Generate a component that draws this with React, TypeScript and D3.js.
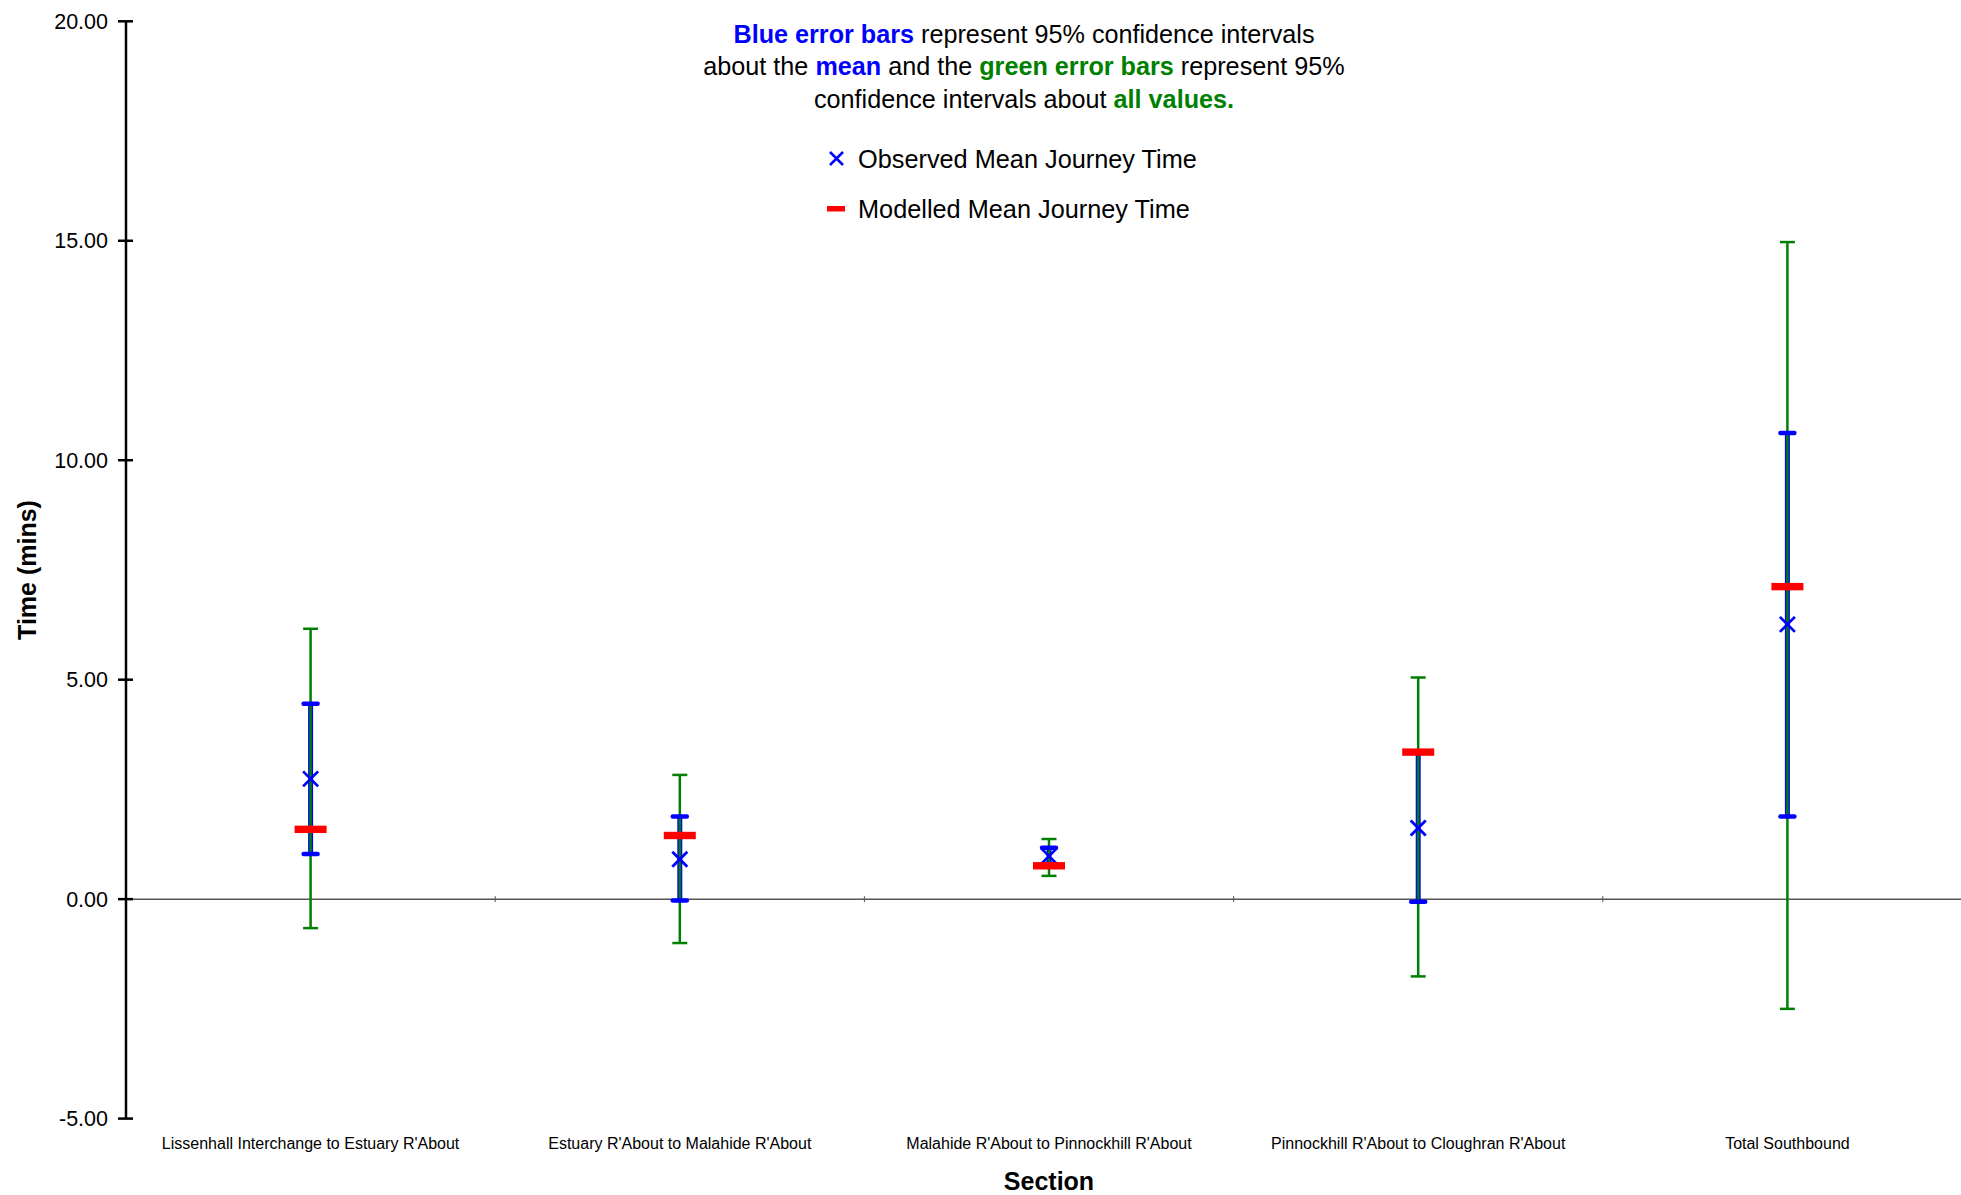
import React from "react";
import * as d3 from "d3";

const categories = [
  "Lissenhall Interchange to Estuary R'About",
  "Estuary R'About to Malahide R'About",
  "Malahide R'About to Pinnockhill R'About",
  "Pinnockhill R'About to Cloughran R'About",
  "Total Southbound",
];
const observedMean = [2.74, 0.91, 0.98, 1.62, 6.26];
const modelledMean = [1.59, 1.45, 0.76, 3.35, 7.12];
const meanCILow = [1.03, -0.03, 0.8, -0.06, 1.88];
const meanCIHigh = [4.45, 1.88, 1.17, 3.34, 10.62];
const allCILow = [-0.66, -1.0, 0.53, -1.76, -2.5];
const allCIHigh = [6.16, 2.83, 1.37, 5.05, 14.97];
const yTicks = [-5, 0, 5, 10, 15, 20];

const W = 1961;
const H = 1195;
const FONT = "'Liberation Sans', Arial, sans-serif";

export default function App() {
  const y = d3.scaleLinear().domain([-5, 20]).range([1118.6, 21.3]);
  const x = d3.scaleBand<string>().domain(categories).range([126, 1972]);
  const cx = (c: string) => (x(c) as number) + x.bandwidth() / 2;
  const axisX = 126;
  const y0 = y(0);
  const fmt = (v: number) => d3.format(".2f")(v).replace("\u2212", "-");

  return (
    <svg
      width={W}
      height={H}
      style={{ position: "absolute", left: 0, top: 0, background: "#fff" }}
      fontFamily={FONT}
    >
      <rect x={0} y={0} width={W} height={H} fill="#fff" />
      {/* zero line */}
      <line x1={axisX} x2={W} y1={y0} y2={y0} stroke="#555" strokeWidth={1.5} />
      {categories.slice(1).map((c) => (
        <line key={c} x1={x(c)} x2={x(c)} y1={y0 - 3} y2={y0 + 3} stroke="#555" strokeWidth={1} />
      ))}
      {/* y axis */}
      <line x1={axisX} x2={axisX} y1={y(20)} y2={y(-5)} stroke="#000" strokeWidth={2.5} />
      {yTicks.map((t) => (
        <g key={t}>
          <line x1={axisX - 8} x2={axisX + 7} y1={y(t)} y2={y(t)} stroke="#000" strokeWidth={2.5} />
          <text x={axisX - 18} y={y(t)} dy="0.35em" textAnchor="end" fontSize={21.5} fill="#000">
            {fmt(t)}
          </text>
        </g>
      ))}
      <text
        transform={`translate(36,570) rotate(-90)`}
        textAnchor="middle"
        fontSize={25}
        fontWeight="bold"
        fill="#000"
      >
        Time (mins)
      </text>
      {/* x labels */}
      {categories.map((c) => (
        <text key={c} x={cx(c)} y={1149} textAnchor="middle" fontSize={16} fill="#000">
          {c}
        </text>
      ))}
      <text x={1049} y={1190} textAnchor="middle" fontSize={25} fontWeight="bold" fill="#000">
        Section
      </text>

      {/* marks */}
      {categories.map((c, i) => {
        const px = cx(c);
        return (
          <g key={c}>
            <line x1={px} x2={px} y1={y(meanCIHigh[i])} y2={y(meanCILow[i])} stroke="#0000ff" strokeWidth={5} />
            <line x1={px} x2={px} y1={y(allCIHigh[i])} y2={y(allCILow[i])} stroke="#008000" strokeWidth={2.5} />
            <line x1={px - 7.5} x2={px + 7.5} y1={y(allCIHigh[i])} y2={y(allCIHigh[i])} stroke="#008000" strokeWidth={2.5} />
            <line x1={px - 7.5} x2={px + 7.5} y1={y(allCILow[i])} y2={y(allCILow[i])} stroke="#008000" strokeWidth={2.5} />
            <line x1={px - 7} x2={px + 7} y1={y(meanCIHigh[i])} y2={y(meanCIHigh[i])} stroke="#0000ff" strokeWidth={4.5} strokeLinecap="round" />
            <line x1={px - 7} x2={px + 7} y1={y(meanCILow[i])} y2={y(meanCILow[i])} stroke="#0000ff" strokeWidth={4.5} strokeLinecap="round" />
            <path
              d={`M${px - 7.5},${y(observedMean[i]) - 7.5}L${px + 7.5},${y(observedMean[i]) + 7.5}M${px - 7.5},${y(observedMean[i]) + 7.5}L${px + 7.5},${y(observedMean[i]) - 7.5}`}
              stroke="#0000ff"
              strokeWidth={2.8}
              fill="none"
            />
            <rect x={px - 16} y={y(modelledMean[i]) - 3.7} width={32} height={7.4} fill="#ff0000" />
          </g>
        );
      })}

      {/* title */}
      <text x={1024} textAnchor="middle" fontSize={25.2} fill="#000">
        <tspan x={1024} y={42.5}>
          <tspan fill="#0000ff" fontWeight="bold">Blue error bars</tspan> represent 95% confidence intervals
        </tspan>
        <tspan x={1024} y={75}>
          about the <tspan fill="#0000ff" fontWeight="bold">mean</tspan> and the{" "}
          <tspan fill="#008000" fontWeight="bold">green error bars</tspan> represent 95%
        </tspan>
        <tspan x={1024} y={107.5}>
          confidence intervals about <tspan fill="#008000" fontWeight="bold">all values.</tspan>
        </tspan>
      </text>

      {/* legend */}
      <path d="M830,152L843,165M830,165L843,152" stroke="#0000ff" strokeWidth={2.5} fill="none" />
      <text x={858} y={167.5} fontSize={25.3} fill="#000">Observed Mean Journey Time</text>
      <rect x={827} y={206} width={18} height={5.5} fill="#ff0000" />
      <text x={858} y={217.5} fontSize={25.3} fill="#000">Modelled Mean Journey Time</text>
    </svg>
  );
}
